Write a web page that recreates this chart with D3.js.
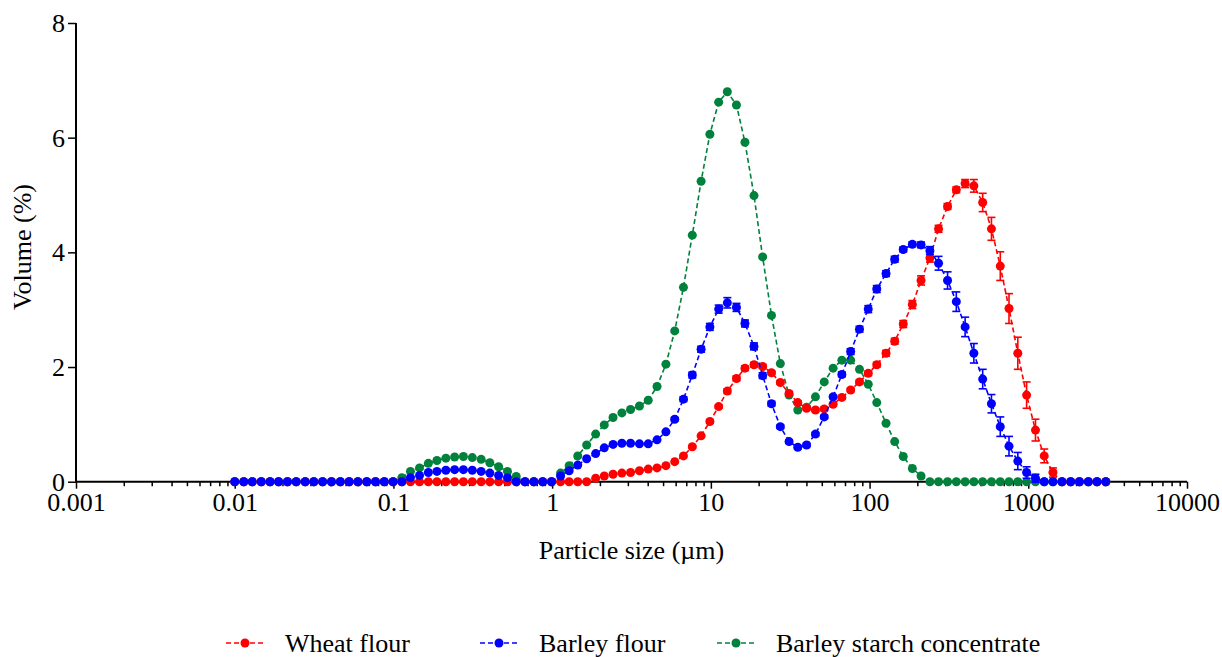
<!DOCTYPE html>
<html>
<head>
<meta charset="utf-8">
<script src="https://cdn.jsdelivr.net/npm/d3@7"></script>
<style>
  body { margin: 0; background: #fff; }
  svg { display: block; }
</style>
</head>
<body>
<div id="chart"></div>
<script>
const width = 1222
const height = 657
const margin = { left: 76, right: 35, top: 23, bottom: 175 }
const serifFont = "'Times New Roman', Times, Tinos, 'Liberation Serif', 'Nimbus Roman', 'Nimbus Roman No9 L', FreeSerif, 'Noto Serif', 'DejaVu Serif', serif"

// particle size classes (um), Mastersizer grid
const sizes = [
  0.01, 0.0114, 0.0129, 0.0147, 0.0167, 0.0189, 0.0215, 0.0244, 0.0278, 0.0315,
  0.0358, 0.0407, 0.0463, 0.0526, 0.0597, 0.0679, 0.0771, 0.0876, 0.0995, 0.113,
  0.128, 0.146, 0.166, 0.188, 0.214, 0.243, 0.276, 0.314, 0.357, 0.405,
  0.46, 0.523, 0.594, 0.675, 0.767, 0.872, 0.991, 1.13, 1.28, 1.45,
  1.65, 1.88, 2.13, 2.42, 2.75, 3.12, 3.55, 4.03, 4.58, 5.21,
  5.92, 6.72, 7.64, 8.68, 9.86, 11.2, 12.7, 14.5, 16.4, 18.7,
  21.2, 24.1, 27.4, 31.1, 35.3, 40.1, 45.6, 51.8, 58.9, 66.9,
  76, 86.4, 98.1, 111, 127, 144, 163, 186, 211, 240,
  272, 310, 352, 400, 454, 516, 586, 666, 756, 859,
  976, 1110, 1260, 1430, 1630, 1850, 2100, 2390, 2710, 3080
]

const wheat = [
  0, 0, 0, 0, 0, 0, 0, 0, 0, 0,
  0, 0, 0, 0, 0, 0, 0, 0, 0, 0,
  0, 0, 0, 0, 0, 0, 0, 0, 0, 0,
  0, 0, 0, 0, 0, 0, 0, 0, 0, 0,
  0, 0.06, 0.10, 0.13, 0.15, 0.16, 0.19, 0.22, 0.24, 0.28,
  0.35, 0.45, 0.61, 0.80, 1.05, 1.31, 1.58, 1.80, 1.98, 2.04,
  2.01, 1.90, 1.73, 1.54, 1.38, 1.28, 1.25, 1.27, 1.35, 1.47,
  1.60, 1.74, 1.89, 2.04, 2.24, 2.45, 2.75, 3.09, 3.51, 3.90,
  4.41, 4.80, 5.09, 5.20, 5.16, 4.87, 4.41, 3.76, 3.02, 2.24,
  1.51, 0.90, 0.45, 0.16, 0, 0, 0, 0, 0, 0
]
const wheatSd = [
  0, 0, 0, 0, 0, 0, 0, 0, 0, 0,
  0, 0, 0, 0, 0, 0, 0, 0, 0, 0,
  0, 0, 0, 0, 0, 0, 0, 0, 0, 0,
  0, 0, 0, 0, 0, 0, 0, 0, 0, 0,
  0, 0, 0, 0, 0, 0, 0, 0, 0, 0,
  0, 0, 0.02, 0.02, 0.03, 0.03, 0.04, 0.04, 0.04, 0.04,
  0.03, 0.03, 0.03, 0.03, 0.03, 0.03, 0.03, 0.03, 0.03, 0.03,
  0.03, 0.03, 0.04, 0.04, 0.05, 0.05, 0.06, 0.07, 0.08, 0.07,
  0.06, 0.05, 0.05, 0.07, 0.11, 0.16, 0.20, 0.25, 0.26, 0.28,
  0.23, 0.19, 0.12, 0.08, 0, 0, 0, 0, 0, 0
]

const barley = [
  0, 0, 0, 0, 0, 0, 0, 0, 0, 0,
  0, 0, 0, 0, 0, 0, 0, 0, 0, 0,
  0.07, 0.11, 0.16, 0.18, 0.20, 0.21, 0.21, 0.20, 0.18, 0.15,
  0.11, 0.07, 0, 0, 0, 0, 0, 0.10, 0.19, 0.29,
  0.40, 0.49, 0.59, 0.65, 0.67, 0.67, 0.66, 0.66, 0.73, 0.87,
  1.09, 1.44, 1.86, 2.31, 2.70, 3.01, 3.12, 3.04, 2.76, 2.36,
  1.85, 1.36, 0.96, 0.70, 0.60, 0.64, 0.83, 1.13, 1.48, 1.87,
  2.27, 2.66, 3.01, 3.36, 3.63, 3.88, 4.05, 4.14, 4.13, 4.03,
  3.81, 3.51, 3.14, 2.70, 2.24, 1.79, 1.36, 0.96, 0.62, 0.36,
  0.16, 0.06, 0, 0, 0, 0, 0, 0, 0, 0
]
const barleySd = [
  0, 0, 0, 0, 0, 0, 0, 0, 0, 0,
  0, 0, 0, 0, 0, 0, 0, 0, 0, 0,
  0, 0, 0, 0, 0, 0, 0, 0, 0, 0,
  0, 0, 0, 0, 0, 0, 0, 0, 0, 0,
  0, 0, 0, 0, 0, 0, 0, 0, 0, 0,
  0.03, 0.04, 0.05, 0.05, 0.06, 0.07, 0.09, 0.07, 0.06, 0.06,
  0.05, 0.04, 0.03, 0.03, 0.03, 0.03, 0.03, 0.03, 0.03, 0.04,
  0.05, 0.05, 0.06, 0.06, 0.05, 0.05, 0.04, 0.04, 0.05, 0.07,
  0.12, 0.15, 0.17, 0.17, 0.17, 0.17, 0.16, 0.17, 0.17, 0.15,
  0.10, 0.07, 0, 0, 0, 0, 0, 0, 0, 0
]

const starch = [
  0, 0, 0, 0, 0, 0, 0, 0, 0, 0,
  0, 0, 0, 0, 0, 0, 0, 0, 0, 0.07,
  0.18, 0.24, 0.32, 0.37, 0.41, 0.43, 0.44, 0.42, 0.39, 0.33,
  0.26, 0.18, 0.09, 0, 0, 0, 0, 0.15, 0.28, 0.45,
  0.64, 0.83, 0.99, 1.12, 1.20, 1.26, 1.32, 1.42, 1.66, 2.05,
  2.63, 3.39, 4.30, 5.24, 6.06, 6.62, 6.80, 6.57, 5.92, 4.99,
  3.92, 2.90, 2.06, 1.51, 1.25, 1.30, 1.48, 1.74, 1.98, 2.12,
  2.12, 1.96, 1.70, 1.38, 1.02, 0.70, 0.44, 0.23, 0.10, 0,
  0, 0, 0, 0, 0, 0, 0, 0, 0, 0,
  0, 0, 0, 0, 0, 0, 0, 0, 0, 0
]

const seriesNames = ["Wheat flour", "Barley flour", "Barley starch concentrate"]
const seriesColors = ["#ff0000", "#0000ff", "#00823c"]
const xTickLabels = ["0.001", "0.01", "0.1", "1", "10", "100", "1000", "10000"]
const yTicks = [0, 2, 4, 6, 8]

const series = [
  { name: seriesNames[0], color: seriesColors[0], values: wheat, sd: wheatSd },
  { name: seriesNames[1], color: seriesColors[1], values: barley, sd: barleySd },
  { name: seriesNames[2], color: seriesColors[2], values: starch, sd: null },
]
// drawing order seen in the figure: starch below, barley on top
const drawOrder = [2, 0, 1]

var x = d3.scaleLog([0.001, 10000], [margin.left, width - margin.right])
var y = d3.scaleLinear([0, 8], [height - margin.bottom - 0.3, margin.top])

var svg = d3.select("#chart").append("svg")
  .attr("width", width)
  .attr("height", height)
  .style("font-family", serifFont)

// X axis with log minor ticks
const majorVals = xTickLabels.map(Number)
const minorVals = []
majorVals.slice(0, -1).forEach((m) => {
  for (let k = 2; k <= 9; k++) minorVals.push(m * k)
})
const xAxis = d3.axisBottom(x)
  .tickValues(majorVals.concat(minorVals))
  .tickSize(7)
  .tickPadding(4)
  .tickFormat((d) => {
    const i = majorVals.indexOf(d)
    return i >= 0 ? xTickLabels[i] : ""
  })

const gx = svg.append("g")
  .attr("transform", `translate(0,${y(0)})`)
  .call(xAxis)
gx.attr("font-family", null).attr("font-size", null)
gx.select(".domain").attr("stroke-width", 2).attr("d", `M${x(0.001)},0H${x(10000)}`)
gx.selectAll(".tick line").attr("stroke-width", 1.5)
  .filter((d) => majorVals.indexOf(d) < 0).attr("y2", 4.5)
gx.selectAll(".tick text").attr("fill", "#000")
  .style("font-family", serifFont).style("font-size", "26px")

// Y axis
const gy = svg.append("g")
  .attr("transform", `translate(${margin.left},0)`)
  .call(d3.axisLeft(y).tickValues(yTicks).tickSize(8).tickPadding(3))
gy.attr("font-family", null).attr("font-size", null)
gy.select(".domain").attr("stroke-width", 2).attr("d", `M0,${y(8)}V${y(0)}`)
gy.selectAll(".tick line").attr("stroke-width", 1.5)
gy.selectAll(".tick text").attr("fill", "#000")
  .style("font-family", serifFont).style("font-size", "26px")

// axis titles
svg.append("text")
  .attr("x", (x(0.001) + x(10000)) / 2)
  .attr("y", 559)
  .attr("text-anchor", "middle")
  .style("font-size", "26px")
  .text("Particle size (\u00b5m)")

svg.append("text")
  .attr("transform", "translate(31,247) rotate(-90)")
  .attr("text-anchor", "middle")
  .style("font-size", "26px")
  .text("Volume (%)")

// series
const line = d3.line()
  .x((d) => x(d[0]))
  .y((d) => y(d[1]))

drawOrder.forEach((si) => {
  const s = series[si]
  const pts = sizes.map((sz, i) => [sz, s.values[i], s.sd ? s.sd[i] : 0])
  const g = svg.append("g").attr("class", "series")

  g.append("path")
    .datum(pts)
    .attr("d", line)
    .attr("fill", "none")
    .attr("stroke", s.color)
    .attr("stroke-width", 1.6)
    .attr("stroke-dasharray", "5,3")

  const eb = g.append("g")
    .selectAll("g")
    .data(pts.filter((d) => d[2] > 0))
    .enter()
    .append("g")
    .attr("stroke", s.color)
    .attr("stroke-width", 1.6)
  eb.append("line")
    .attr("x1", (d) => x(d[0]))
    .attr("x2", (d) => x(d[0]))
    .attr("y1", (d) => y(d[1] - d[2]))
    .attr("y2", (d) => y(d[1] + d[2]))
  eb.append("line")
    .attr("x1", (d) => x(d[0]) - 4)
    .attr("x2", (d) => x(d[0]) + 4)
    .attr("y1", (d) => y(d[1] + d[2]))
    .attr("y2", (d) => y(d[1] + d[2]))
  eb.append("line")
    .attr("x1", (d) => x(d[0]) - 4)
    .attr("x2", (d) => x(d[0]) + 4)
    .attr("y1", (d) => y(d[1] - d[2]))
    .attr("y2", (d) => y(d[1] - d[2]))

  g.append("g")
    .selectAll("circle")
    .data(pts)
    .enter()
    .append("circle")
    .attr("cx", (d) => x(d[0]))
    .attr("cy", (d) => y(d[1]))
    .attr("r", 4.5)
    .attr("fill", s.color)
})

// legend
const legendX = [226, 480, 717]
const legendY = 643
const legend = svg.append("g")
  .selectAll("g")
  .data(series)
  .enter()
  .append("g")
  .attr("transform", (_d, i) => `translate(${legendX[i]},${legendY})`)
legend.append("line")
  .attr("x1", 0).attr("x2", 38)
  .attr("stroke", (d) => d.color)
  .attr("stroke-width", 1.6)
  .attr("stroke-dasharray", "5,3")
legend.append("circle")
  .attr("cx", 19).attr("r", 4.5)
  .attr("fill", (d) => d.color)
legend.append("text")
  .attr("x", 59)
  .attr("y", 9)
  .style("font-size", "26px")
  .text((d) => d.name)
</script>
</body>
</html>
